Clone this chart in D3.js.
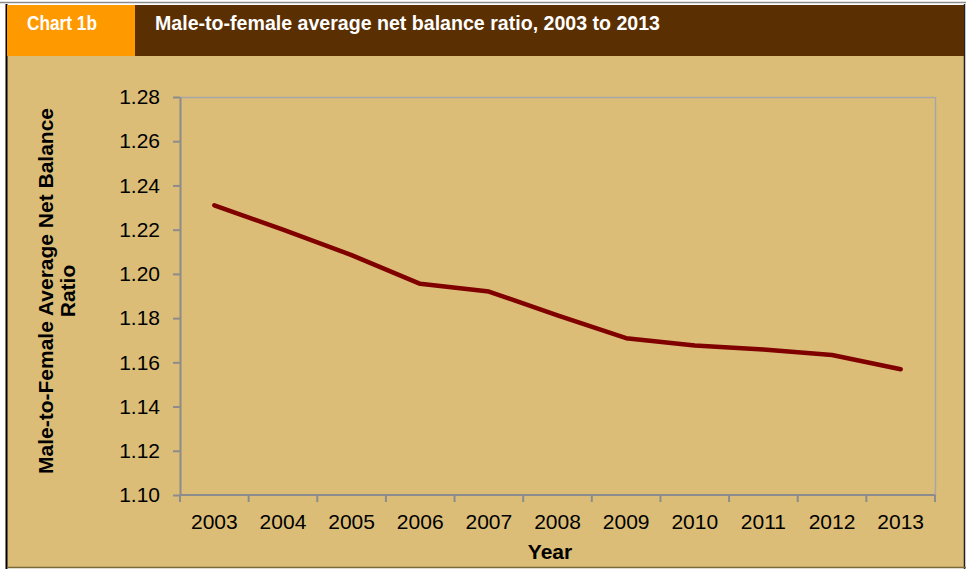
<!DOCTYPE html>
<html><head><meta charset="utf-8">
<script src="https://cdn.jsdelivr.net/npm/d3@7"></script>
<style>
html,body{margin:0;padding:0;background:#fff;}
svg{display:block;}
</style></head>
<body>
<svg id="c" width="966" height="569"></svg>
<script>
const years = ["2003","2004","2005","2006","2007","2008","2009","2010","2011","2012","2013"];
const ratio = [1.231, 1.220, 1.2085, 1.1955, 1.192, 1.1812, 1.1709, 1.1676, 1.1658, 1.1633, 1.1569];
const yTicks = [1.10,1.12,1.14,1.16,1.18,1.20,1.22,1.24,1.26,1.28];
const chartLabel = "Chart 1b";
const title = "Male-to-female average net balance ratio, 2003 to 2013";
const yTitle = ["Male-to-Female Average Net Balance", "Ratio"];
const xTitle = "Year";

const svg = d3.select("#c");
const font = "'Liberation Sans', Arial, sans-serif";

// panel background
svg.append("rect").attr("x",0).attr("y",0).attr("width",966).attr("height",569).attr("fill","#fff");
svg.append("rect").attr("x",7).attr("y",5).attr("width",957).attr("height",562).attr("fill","#dbbd77");
svg.append("line").attr("x1",0).attr("x2",966).attr("y1",2.5).attr("y2",2.5).attr("stroke","#8c8c8c").attr("stroke-width",1.5);
svg.append("line").attr("x1",6.5).attr("x2",6.5).attr("y1",4).attr("y2",569).attr("stroke","#000").attr("stroke-width",2);
svg.append("line").attr("x1",964.5).attr("x2",964.5).attr("y1",4).attr("y2",569).attr("stroke","#222").attr("stroke-width",1.5);
svg.append("line").attr("x1",7).attr("x2",966).attr("y1",567.5).attr("y2",567.5).attr("stroke","#7a6a3a").attr("stroke-width",1.5);

// header
svg.append("rect").attr("x",7).attr("y",5).attr("width",128).attr("height",51).attr("fill","#ff9900");
svg.append("rect").attr("x",135).attr("y",5).attr("width",829).attr("height",51).attr("fill","#5a3003");
svg.append("text").attr("x",27).attr("y",30).attr("fill","#fff").attr("font-family",font)
  .attr("font-weight","bold").attr("font-size",21).attr("textLength",70).attr("lengthAdjust","spacingAndGlyphs").text(chartLabel);
svg.append("text").attr("x",155).attr("y",30).attr("fill","#fff").attr("font-family",font)
  .attr("font-weight","bold").attr("font-size",21).attr("textLength",505).attr("lengthAdjust","spacingAndGlyphs").text(title);

// plot
const L=180, R=935, T=97, B=495;
const x = d3.scaleBand().domain(years).range([L,R]);
const y = d3.scaleLinear().domain([1.10,1.28]).range([B,T]);

// plot frame top/right
svg.append("line").attr("x1",L).attr("x2",R).attr("y1",T+0.5).attr("y2",T+0.5).attr("stroke","#a6a6a6").attr("stroke-width",1.5);
svg.append("line").attr("x1",R+0.5).attr("x2",R+0.5).attr("y1",T).attr("y2",B).attr("stroke","#a6a6a6").attr("stroke-width",1.5);

// y axis
const ya = svg.append("g").attr("transform",`translate(${L},0)`)
  .call(d3.axisLeft(y).tickValues(yTicks).tickFormat(d3.format(".2f")).tickSizeInner(7).tickSizeOuter(0).tickPadding(13));
ya.select(".domain").attr("stroke","#8c8c8c").attr("stroke-width",2);
ya.selectAll(".tick line").attr("stroke","#8c8c8c").attr("stroke-width",2);
ya.selectAll(".tick text").attr("font-family",font).attr("font-size",21).attr("fill","#000");

// x axis
const xa = svg.append("g").attr("transform",`translate(0,${B})`)
  .call(d3.axisBottom(x).tickSize(0).tickPadding(19));
xa.select(".domain").attr("stroke","#8c8c8c").attr("stroke-width",2).attr("d",`M${L},0H${R}`);
xa.selectAll(".tick text").attr("font-family",font).attr("font-size",21).attr("fill","#000");
// boundary ticks between categories
const bounds = years.map(d=>x(d)).concat([R]);
xa.selectAll(".bt").data(bounds).enter().append("line").attr("class","bt")
  .attr("x1",d=>d).attr("x2",d=>d).attr("y1",0).attr("y2",7).attr("stroke","#8c8c8c").attr("stroke-width",2);

// line
const line = d3.line().x((d,i)=>x(years[i])+x.bandwidth()/2).y(d=>y(d));
svg.append("path").datum(ratio).attr("d",line).attr("fill","none")
  .attr("stroke","#800000").attr("stroke-width",4.5).attr("stroke-linejoin","round").attr("stroke-linecap","round");

// axis titles
const yt = svg.append("text").attr("transform","translate(53,291) rotate(-90)")
  .attr("text-anchor","middle").attr("font-family",font).attr("font-weight","bold").attr("font-size",21).attr("fill","#000");
yt.append("tspan").attr("x",0).attr("dy",0).text(yTitle[0]);
yt.append("tspan").attr("x",0).attr("dy",22).text(yTitle[1]);

svg.append("text").attr("x",550).attr("y",559).attr("text-anchor","middle").attr("font-family",font)
  .attr("font-weight","bold").attr("font-size",21).attr("fill","#000").text(xTitle);
</script>
</body></html>
